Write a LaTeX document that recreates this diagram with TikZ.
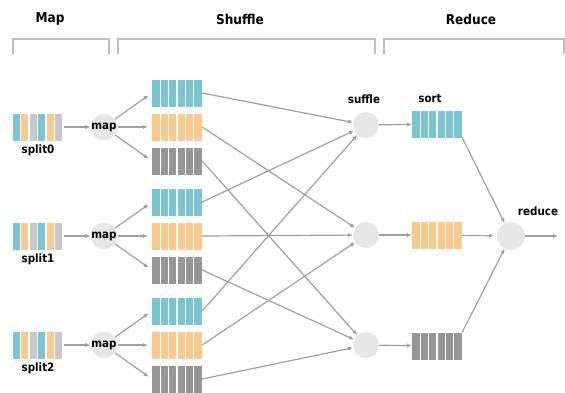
\documentclass[tikz,border=0pt]{standalone}
\usepackage{fontspec}
\setmainfont{DejaVu Sans Condensed}
\usetikzlibrary{positioning,calc,arrows.meta}

\definecolor{cblue}{RGB}{122,197,210}
\definecolor{corange}{RGB}{250,201,142}
\definecolor{clight}{RGB}{200,200,200}
\definecolor{cdark}{RGB}{150,150,150}
\definecolor{cdot}{RGB}{230,230,230}
\definecolor{cline}{RGB}{160,160,160}
\definecolor{cbrk}{RGB}{190,190,190}

\begin{document}
\begin{tikzpicture}[x=1pt, y=-1pt, font=\bfseries\fontsize{11.5}{13}\selectfont,
    every node/.style={align=center},
    ttl/.style={font=\bfseries\fontsize{13.5}{15}\selectfont},
    arr/.style={-{Latex[length=5pt,width=4.5pt]}, line width=1.2pt, draw=cline, fill=cline},
    brk/.style={draw=cbrk, line width=1.5pt},
    dot/.style={circle, fill=cdot, minimum size=26pt, inner sep=0pt},
    blk/.style={minimum width=50pt, minimum height=27pt, inner sep=0pt, path picture={
      \foreach \k in {1,...,5}
        \draw[white, line width=1.4pt]
          ($(path picture bounding box.north west)!\k/6!(path picture bounding box.north east)$) --
          ($(path picture bounding box.south west)!\k/6!(path picture bounding box.south east)$);}},
    splitbox/.style={minimum width=51pt, minimum height=27pt, inner sep=0pt, path picture={
      \foreach \c [count=\k from 0] in {cblue,corange,clight,cblue,corange,clight}
        \fill[\c]
          ($(path picture bounding box.north west)!\k/6!(path picture bounding box.north east)$) rectangle
          ($(path picture bounding box.south west)!\k/6+0.14!(path picture bounding box.south east)$);}}]
    \useasboundingbox (0,0) rectangle (565,392);

    % stage headers
    \node[ttl] (tmap) at (50,19) {Map};
    \node[ttl] (tshuffle) at (240,19) {Shuffle};
    \node[ttl] (treduce) at (471,19) {Reduce};
    \draw[brk] (13,54) |- (109,39) -- (109,54);
    \draw[brk] (118,54) |- (375,39) -- (375,54);
    \draw[brk] (384,54) |- (564,39) -- (564,54);

    % map side
    \foreach \g/\yy in {0/127,1/236,2/345} {
      \node[splitbox] (split\g) at (38,\yy) {};
      \node[below=1pt of split\g] (splitlbl\g) {split\g};
      \node[dot, minimum size=24pt] (map\g) at (104,\yy) {map};
      \node[blk, fill=cblue] (pb\g) at (177,\yy-34) {};
      \node[blk, fill=corange] (po\g) at (177,\yy) {};
      \node[blk, fill=cdark] (pg\g) at (177,\yy+34) {};
      \draw[arr] (split\g) -- (map\g);
      \draw[arr, shorten >=4pt] (map\g) -- (pb\g.west);
      \draw[arr, shorten >=4pt] (map\g) -- (po\g);
      \draw[arr, shorten >=4pt] (map\g) -- (pg\g.west);
    }

    % shuffle and reduce side
    \node[dot] (sh0) at (366,125) {};
    \node[dot] (sh1) at (366,235) {};
    \node[dot] (sh2) at (366,345) {};
    \node (shlbl) at (364,99) {suffle};
    \node[blk, fill=cblue] (sort0) at (437,124) {};
    \node[blk, fill=corange] (sort1) at (437,235) {};
    \node[blk, fill=cdark] (sort2) at (437,346) {};
    \node (sortlbl) at (430,99) {sort};
    \node[dot, minimum size=28pt] (red) at (511,236) {};
    \node (redlbl) at (538,211) {reduce};
    \coordinate (out) at (558,236);

    \foreach \g in {0,1,2} {
      \draw[arr] (pb\g.east) -- (sh0);
      \draw[arr] (po\g.east) -- (sh1);
      \draw[arr] (pg\g.east) -- (sh2);
    }
    \draw[arr] (sh0) -- (sort0);
    \draw[arr] (sh1) -- (sort1);
    \draw[arr] (sh2) -- (sort2);
    \draw[arr] (sort0.south east) -- (red);
    \draw[arr, shorten >=3pt] (sort1) -- (red);
    \draw[arr] (sort2.north east) -- (red);
    \draw[arr] (red) -- (out);
\end{tikzpicture}
\end{document}
